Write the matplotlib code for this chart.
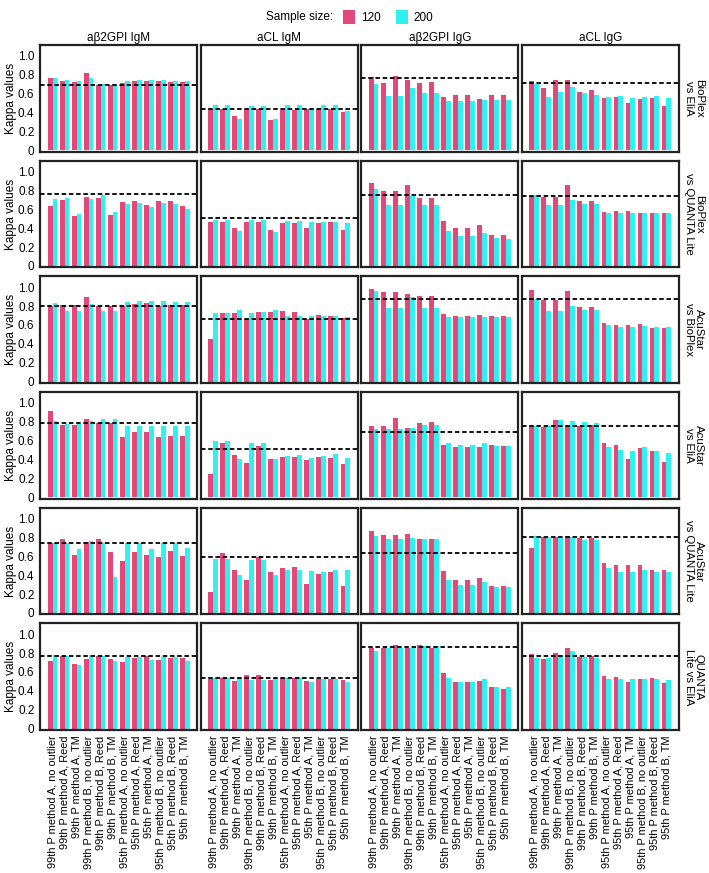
import matplotlib
matplotlib.use("Agg")
import matplotlib.pyplot as plt
import numpy as np
from matplotlib.patches import Patch

plt.rcParams['font.family'] = ['Liberation Sans', 'DejaVu Sans']

categories = [
    "99th P method A, no outlier", "99th P method A, Reed", "99th P method A, TM",
    "99th P method B, no outlier", "99th P method B, Reed", "99th P method B, TM",
    "95th P method A, no outlier", "95th P method A, Reed", "95th P method A, TM",
    "95th P method B, no outlier", "95th P method B, Reed", "95th P method B, TM",
]
antibodies = ["a\u03b22GPI IgM", "aCL IgM", "a\u03b22GPI IgG", "aCL IgG"]
comparisons = ["BioPlex\nvs EliA", "BioPlex\nvs QUANTA Lite", "AcuStar\nvs BioPlex",
               "AcuStar\nvs EliA", "AcuStar\nvs QUANTA Lite", "QUANTA\nLite vs EliA"]
sample_sizes = ["120", "200"]

# Row 1: BioPlex vs EliA (one list per antibody)
bioplex_elia_120 = [
    [.76, .73, .72, .82, .69, .69, .71, .73, .73, .73, .72, .72],
    [.44, .44, .36, .44, .44, .32, .43, .43, .44, .44, .44, .41],
    [.78, .71, .79, .74, .71, .72, .56, .59, .59, .54, .58, .59],
    [.73, .66, .74, .74, .62, .64, .55, .56, .50, .54, .55, .47],
]
bioplex_elia_200 = [
    [.76, .74, .73, .76, .70, .70, .73, .74, .74, .74, .73, .73],
    [.48, .48, .33, .47, .47, .33, .48, .48, .44, .48, .48, .42],
    [.70, .57, .57, .66, .61, .61, .52, .52, .52, .53, .53, .53],
    [.70, .56, .62, .67, .61, .59, .56, .57, .55, .56, .57, .55],
]
bioplex_elia_ref = [.69, .44, .77, .71]

# Row 2: BioPlex vs QUANTA Lite
bioplex_quanta_120 = [
    [.63, .70, .53, .73, .72, .54, .68, .69, .65, .69, .69, .63],
    [.46, .46, .40, .47, .47, .38, .45, .45, .40, .45, .46, .38],
    [.88, .79, .79, .86, .72, .72, .48, .40, .40, .43, .33, .33],
    [.74, .73, .73, .86, .69, .69, .57, .58, .58, .56, .56, .56],
]
bioplex_quanta_200 = [
    [.71, .72, .55, .71, .75, .57, .66, .67, .62, .67, .66, .60],
    [.49, .49, .37, .49, .49, .36, .48, .48, .46, .47, .47, .45],
    [.81, .64, .64, .74, .64, .64, .37, .32, .32, .35, .30, .29],
    [.75, .65, .65, .70, .66, .66, .56, .56, .56, .56, .56, .56],
]
bioplex_quanta_ref = [.76, .51, .75, .74]

# Row 3: AcuStar vs BioPlex
acustar_bioplex_120 = [
    [.80, .81, .81, .90, .80, .80, .80, .82, .83, .80, .81, .81],
    [.45, .73, .73, .66, .74, .74, .75, .74, .66, .71, .70, .67],
    [.98, .95, .95, .93, .91, .91, .72, .69, .69, .71, .70, .70],
    [.97, .86, .86, .96, .79, .79, .62, .60, .60, .61, .57, .57],
]
acustar_bioplex_200 = [
    [.83, .75, .75, .82, .75, .75, .84, .85, .85, .85, .84, .84],
    [.73, .73, .76, .73, .74, .76, .69, .70, .70, .70, .69, .68],
    [.96, .78, .78, .90, .78, .78, .68, .68, .68, .68, .68, .68],
    [.87, .75, .75, .80, .76, .76, .60, .58, .58, .59, .58, .58],
]
acustar_bioplex_ref = [.80, .66, .88, .87]

# Row 4: AcuStar vs EliA
acustar_elia_120 = [
    [.91, .77, .77, .83, .79, .79, .64, .69, .69, .64, .65, .65],
    [.25, .57, .45, .36, .54, .41, .43, .43, .39, .43, .42, .35],
    [.76, .76, .84, .73, .79, .80, .55, .53, .53, .53, .55, .54],
    [.76, .74, .82, .76, .76, .77, .58, .55, .40, .52, .49, .37],
]
acustar_elia_200 = [
    [.81, .78, .78, .81, .83, .83, .76, .76, .76, .76, .76, .76],
    [.60, .60, .41, .58, .58, .40, .44, .45, .42, .44, .46, .42],
    [.72, .72, .72, .73, .77, .77, .57, .55, .55, .57, .54, .54],
    [.76, .76, .82, .81, .80, .79, .53, .50, .49, .53, .49, .47],
]
acustar_elia_ref = [.79, .51, .69, .75]

# Row 5: AcuStar vs QUANTA Lite
acustar_quanta_120 = [
    [.74, .78, .61, .75, .78, .65, .55, .65, .61, .59, .66, .60],
    [.22, .63, .46, .35, .59, .43, .48, .49, .31, .41, .43, .29],
    [.87, .83, .83, .84, .78, .78, .44, .35, .35, .37, .29, .29],
    [.69, .80, .80, .82, .79, .79, .53, .51, .51, .51, .45, .45],
]
acustar_quanta_200 = [
    [.74, .74, .68, .76, .74, .38, .74, .74, .68, .74, .74, .69],
    [.57, .57, .40, .56, .56, .40, .45, .45, .44, .43, .45, .45],
    [.82, .78, .78, .79, .78, .78, .35, .30, .30, .33, .27, .27],
    [.81, .79, .79, .80, .77, .77, .48, .43, .43, .46, .43, .43],
]
acustar_quanta_ref = [.74, .59, .64, .80]

# Row 6: QUANTA Lite vs EliA
quanta_elia_120 = [
    [.72, .77, .68, .74, .77, .74, .71, .75, .77, .73, .75, .75],
    [.53, .54, .50, .57, .57, .51, .54, .54, .50, .53, .53, .51],
    [.85, .85, .89, .85, .89, .85, .59, .49, .49, .50, .44, .42],
    [.79, .74, .80, .85, .76, .77, .56, .55, .49, .53, .54, .48],
]
quanta_elia_200 = [
    [.78, .77, .67, .78, .77, .72, .76, .76, .73, .76, .76, .72],
    [.54, .54, .54, .51, .51, .54, .54, .54, .49, .53, .53, .49],
    [.82, .85, .85, .85, .88, .88, .54, .49, .49, .53, .44, .44],
    [.75, .75, .78, .82, .76, .75, .53, .53, .53, .53, .53, .52],
]
quanta_elia_ref = [.77, .54, .86, .77]

rows_120 = [bioplex_elia_120, bioplex_quanta_120, acustar_bioplex_120,
            acustar_elia_120, acustar_quanta_120, quanta_elia_120]
rows_200 = [bioplex_elia_200, bioplex_quanta_200, acustar_bioplex_200,
            acustar_elia_200, acustar_quanta_200, quanta_elia_200]
rows_ref = [bioplex_elia_ref, bioplex_quanta_ref, acustar_bioplex_ref,
            acustar_elia_ref, acustar_quanta_ref, quanta_elia_ref]

PINK = '#E2487A'
CYAN = '#2EF2F2'

W, H = 709, 873
fig = plt.figure(figsize=(W / 100, H / 100), dpi=100)
gs = fig.add_gridspec(6, 4, left=40 / W, right=679 / W, top=1 - 45 / H, bottom=1 - 730 / H,
                      hspace=0.085, wspace=0.02)

x = np.arange(len(categories))
bw = 0.4
yticks = [0, 0.2, 0.4, 0.6, 0.8, 1.0]
ytlabels = ["0", "0.2", "0.4", "0.6", "0.8", "1.0"]

for r in range(6):
    for c in range(4):
        ax = fig.add_subplot(gs[r, c])
        ax.bar(x - bw / 2, rows_120[r][c], width=bw, color=PINK, linewidth=0)
        ax.bar(x + bw / 2, rows_200[r][c], width=bw, color=CYAN, linewidth=0)
        ax.axhline(rows_ref[r][c], color='black', linestyle=(0, (2.5, 1.5)), linewidth=1.3, zorder=3)
        ax.set_xlim(-1.05, 12.05)
        ax.set_ylim(-0.015, 1.115)
        for s in ax.spines.values():
            s.set_linewidth(1.6)
            s.set_color('#222222')
        ax.set_yticks(yticks)
        if c == 0:
            ax.set_yticklabels(ytlabels, fontsize=8.5)
            ax.set_ylabel("Kappa values", fontsize=8.5, labelpad=1)
            ax.tick_params(axis='y', length=0, pad=4)
        else:
            ax.tick_params(axis='y', length=0, labelleft=False)
        ax.set_xticks(x)
        if r == 5:
            ax.set_xticklabels(categories, rotation=90, fontsize=7.9)
            ax.tick_params(axis='x', length=0, pad=4)
        else:
            ax.tick_params(axis='x', length=0, labelbottom=False)
        if r == 0:
            ax.set_title(antibodies[c], fontsize=8.5, pad=3)
        if c == 3:
            ax.text(1.095, 0.5, comparisons[r], transform=ax.transAxes, rotation=270,
                    ha='center', va='center', fontsize=8.2, linespacing=1.0)

fig.text(333 / W, 1 - 17 / H, "Sample size:", ha='right', va='center', fontsize=8.5)
handles = [Patch(facecolor=PINK, edgecolor='none'), Patch(facecolor=CYAN, edgecolor='none')]
fig.legend(handles, sample_sizes, loc='center left', bbox_to_anchor=(343 / W, 1 - 17 / H),
           ncol=2, frameon=False, fontsize=8.5, handlelength=1.0, handleheight=1.5,
           handletextpad=0.5, columnspacing=1.3, borderaxespad=0, borderpad=0)

fig.savefig("out.png", dpi=100)
